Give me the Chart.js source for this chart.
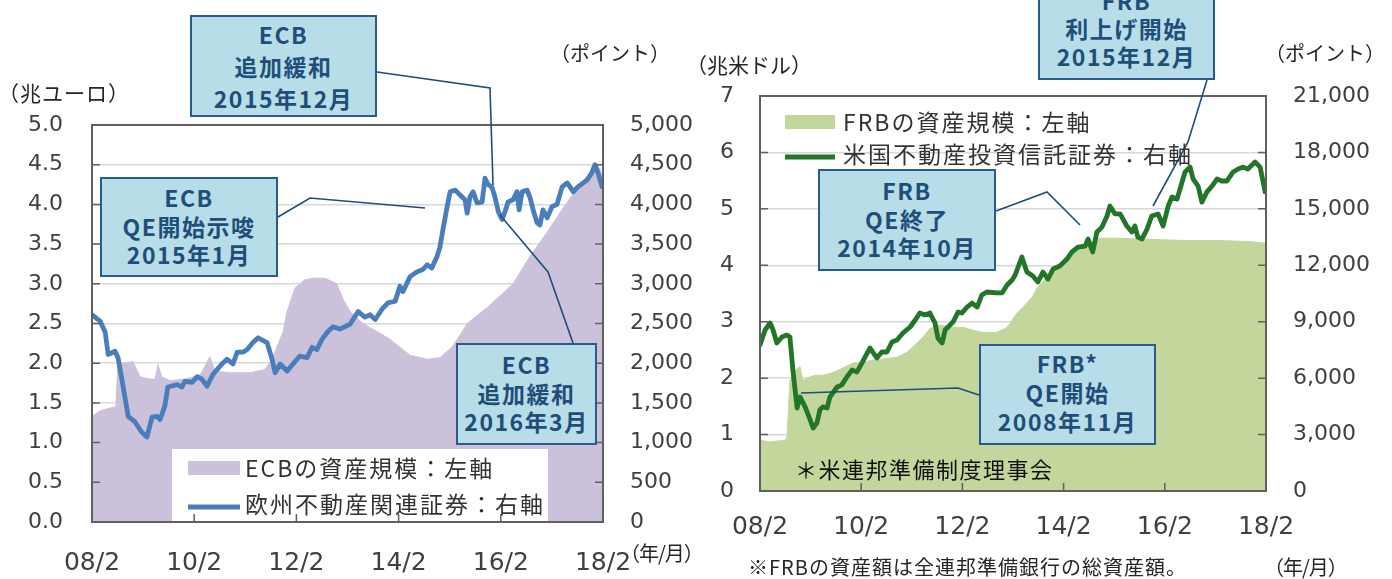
<!DOCTYPE html>
<html lang="ja">
<head>
<meta charset="utf-8">
<title>ECB・FRBの資産規模と不動産関連証券</title>
<script src="https://cdn.jsdelivr.net/npm/chart.js@4.4.1/dist/chart.umd.min.js"></script>
<style>
  html, body { margin: 0; padding: 0; background: #fff; }
  body { width: 1392px; height: 579px; position: relative; overflow: hidden;
         font-family: "Noto Sans CJK JP", "Noto Sans", sans-serif; }
  canvas { position: absolute; top: 0; }
  #leftChart  { left: 0; }
  #rightChart { left: 690px; }
  .txt { position: absolute; white-space: nowrap; line-height: 1.2; color: #262626;
         transform: translateY(-50%); }
  .callout { position: absolute; box-sizing: border-box; background: #b7dde8;
             border: 2px solid #2c5a8a; color: #1f4e79; font-weight: 700;
             font-size: 23px; letter-spacing: 1.5px; text-align: center; line-height: 29px; }
</style>
</head>
<body>
<canvas id="leftChart" width="700" height="579"></canvas>
<canvas id="rightChart" width="702" height="579"></canvas>

<!-- axis units / notes -->
<div class="txt" style="left:-2px;top:93px;font-size:21px;letter-spacing:1px;">（兆ユーロ）</div>
<div class="txt" style="left:550px;top:53px;font-size:20px;">（ポイント）</div>
<div class="txt" style="left:686px;top:65px;font-size:21px;">（兆米ドル）</div>
<div class="txt" style="left:1265px;top:53px;font-size:20px;">（ポイント）</div>
<div class="txt" style="left:620px;top:553px;font-size:20px;letter-spacing:-1px;">（年/月）</div>
<div class="txt" style="left:1264px;top:567px;font-size:20px;letter-spacing:-1px;">（年/月）</div>
<div class="txt" style="left:748px;top:567px;font-size:20px;letter-spacing:1px;">※FRBの資産額は全連邦準備銀行の総資産額。</div>

<!-- legends -->
<div class="txt" style="left:245px;top:468px;font-size:23px;letter-spacing:2px;color:#333;">ECBの資産規模：左軸</div>
<div class="txt" style="left:245px;top:504px;font-size:23px;letter-spacing:2px;color:#333;">欧州不動産関連証券：右軸</div>
<div class="txt" style="left:843px;top:122px;font-size:23px;letter-spacing:2px;color:#333;">FRBの資産規模：左軸</div>
<div class="txt" style="left:843px;top:154px;font-size:23px;letter-spacing:2px;color:#333;">米国不動産投資信託証券：右軸</div>
<div class="txt" style="left:795px;top:468px;font-size:22px;letter-spacing:1.5px;color:#111;">＊米連邦準備制度理事会</div>

<!-- callouts -->
<div class="callout" style="left:190px;top:15px;width:187px;height:102px;padding-top:1px;line-height:32px;">ECB<br>追加緩和<br>2015年12月</div>
<div class="callout" style="left:100px;top:177px;width:178px;height:100px;padding-top:4px;line-height:28.5px;">ECB<br>QE開始示唆<br>2015年1月</div>
<div class="callout" style="left:456px;top:343px;width:141px;height:102px;padding-top:5px;line-height:28.5px;">ECB<br>追加緩和<br>2016年3月</div>
<div class="callout" style="left:1038px;top:-20px;width:177px;height:100px;padding-top:4px;line-height:28px;">FRB<br>利上げ開始<br>2015年12月</div>
<div class="callout" style="left:818px;top:169px;width:178px;height:102px;padding-top:5px;line-height:28.5px;">FRB<br>QE終了<br>2014年10月</div>
<div class="callout" style="left:979px;top:344px;width:177px;height:101px;padding-top:3px;line-height:29px;">FRB*<br>QE開始<br>2008年11月</div>

<script>
// ── Data (x = months since 2008/2) ─────────────────────────
const xTickMonths = [0, 24, 48, 72, 96, 120];
const xTickLabels = ['08/2', '10/2', '12/2', '14/2', '16/2', '18/2'];

// ECB balance sheet (兆ユーロ)
const ecbX = [0, 1.9, 3.8, 5.6, 6.1, 7.7, 9.6, 11.3, 13.6, 14.8, 15.5, 16.4, 18.3, 21.8, 25.4, 27.7, 28.9,
  32.4, 37.1, 40.6, 42.3, 43.4, 44.9, 45.8, 47.7, 50, 51.9, 54.7, 57.5, 59, 60.6, 63.6, 66.9, 70, 74.7,
  78.7, 81.7, 84.5, 86.4, 88.1, 92.8, 98.9, 102.9, 106.9, 110.6, 113.9, 117, 117.7, 119.3, 120];
const ecbAssets = [1.33, 1.40, 1.43, 1.45, 2.0, 2.0, 2.02, 1.83, 1.80, 1.80, 1.98, 1.83, 1.78, 1.80, 1.85, 2.08, 1.90,
  1.88, 1.88, 1.92, 2.05, 2.2, 2.4, 2.65, 2.95, 3.05, 3.07, 3.07, 3.0, 2.8, 2.65, 2.5, 2.4, 2.3, 2.1,
  2.05, 2.07, 2.2, 2.35, 2.5, 2.7, 3.0, 3.35, 3.65, 3.95, 4.2, 4.4, 4.5, 4.45, 4.3];

// European real-estate securities (ポイント)
const eurX = [0, 1.9, 3.1, 3.8, 5.4, 6.1, 7.3, 8.5, 10.1, 11.7, 12.9, 14.1, 15.3, 16, 17.1, 17.8, 20, 21.1,
  21.8, 23.5, 24.7, 25.8, 27, 28.4, 30.5, 31.7, 33.1, 34.1, 35.5, 36.4, 37.8, 39, 41.1, 42.3, 43, 44.2,
  45.8, 47.2, 48.8, 50.5, 51.7, 52.8, 54, 55.4, 56.6, 58.2, 60.6, 62.5, 64.1, 65.3, 66.5, 68.1, 69.5,
  71.2, 72.3, 73, 74.7, 76.3, 77.7, 78.7, 79.8, 81, 81.7, 82.4, 83.4, 84.1, 85.3, 86.4, 87.6, 88.1,
  88.8, 89.5, 90.4, 91.6, 92.3, 93, 93.9, 94.6, 95.4, 96.3, 97, 97.7, 98.9, 99.8, 100.3, 101, 102.2,
  102.9, 103.6, 104.5, 105.2, 105.9, 106.9, 108, 109.2, 110.4, 111.6, 113, 114.1, 116.3, 117.4, 118.1,
  118.8, 119.8];
const eurReit = [2610, 2530, 2390, 2110, 2150, 2070, 1710, 1330, 1260, 1130, 1070, 1320, 1330, 1290, 1460, 1700, 1730, 1700,
  1770, 1760, 1830, 1800, 1710, 1860, 1990, 2050, 1990, 2140, 2140, 2170, 2260, 2320, 2260, 2050, 1880, 1990,
  1900, 1990, 2090, 2070, 2200, 2170, 2300, 2400, 2460, 2430, 2490, 2650, 2580, 2610, 2550, 2680, 2760,
  2780, 2970, 2900, 3090, 3150, 3180, 3240, 3200, 3340, 3460, 3680, 3970, 4160, 4180, 4120, 4060, 3890,
  4100, 4160, 4020, 4030, 4330, 4250, 4220, 4100, 3910, 3810, 3910, 4030, 4060, 4160, 3930, 4160, 4180,
  4080, 3930, 3770, 3740, 3930, 3830, 3970, 4000, 4220, 4270, 4160, 4220, 4310, 4400, 4500,
  4400, 4220];

// FRB balance sheet (兆米ドル)
const frbX = [0, 2.4, 5.9, 6.4, 7.1, 8.3, 9.5, 10.2, 11.1, 13, 14.9, 17.3, 19.7, 22.1, 24.4, 26.8, 29.2, 32.5,
  34.9, 37.2, 38.7, 40.3, 42.7, 45.8, 48.1, 50.5, 52.9, 56.2, 58.6, 60.9, 62.4, 64.7, 65.7, 68.8, 72.8,
  75.9, 79, 80.6, 84.7, 92.5, 100.3, 108.4, 116.2, 120];
const frbAssets = [0.90, 0.87, 0.90, 0.95, 1.96, 2.14, 2.2, 1.96, 2.0, 2.05, 2.05, 2.1, 2.18, 2.27, 2.28, 2.32, 2.34, 2.37,
  2.46, 2.62, 2.73, 2.88, 2.94, 2.90, 2.90, 2.85, 2.81, 2.81, 2.90, 3.15, 3.26, 3.45, 3.6, 3.85, 4.12,
  4.30, 4.42, 4.48, 4.48, 4.46, 4.44, 4.44, 4.42, 4.39];

// US REIT securities (ポイント)
const usX = [0, 1.2, 2.4, 3.1, 4, 5.2, 6.4, 7.1, 7.8, 8.8, 9.5, 10.7, 11.9, 12.6, 13.5, 14.2, 14.9, 15.9, 16.6,
  18.3, 19.4, 20.6, 21.8, 23, 24.2, 24.9, 26.1, 27.7, 28.9, 30.1, 31.3, 32.5, 33.9, 35.6, 36.8, 37.9,
  39.1, 40.3, 41.5, 42.2, 43.2, 43.9, 44.6, 45.8, 47, 47.9, 49.1, 50.3, 51.5, 52.6, 53.8, 56.2, 57.4,
  58.6, 59.8, 60.5, 62.1, 63.3, 64.7, 65.9, 67.1, 68.3, 69.5, 71.1, 72.8, 74, 75.4, 77.1, 77.8, 78.9,
  79.9, 81.1, 82.3, 83, 84.2, 85.4, 87, 88.2, 88.9, 89.6, 90.6, 91.8, 92.9, 94.4, 95.6, 96.8, 97.7,
  98.9, 99.6, 100.8, 102, 102.7, 103.9, 104.8, 106, 107.2, 108.4, 109.5, 110.7, 112.2, 113.4, 114.6,
  115.7, 117.4, 118.6, 119.8];
const usReit = [7760, 8560, 8930, 8560, 7870, 8190, 8290, 8190, 6430, 4410, 5000, 4470, 3780, 3350, 3620, 4310, 4470, 4410, 5000,
  5530, 5640, 6060, 6430, 6330, 6810, 7120, 7600, 7070, 7390, 7390, 7920, 8030, 8400, 8720, 9090, 9460,
  9360, 9460, 8930, 8130, 7870, 8560, 8720, 8990, 9520, 9460, 9780, 9990, 9780, 10420, 10580, 10530, 10530,
  10950, 11220, 11480, 12440, 11640, 11430, 11110, 11640, 11270, 11800, 11960, 12330, 12710, 12970, 13020, 13400, 12710,
  13770, 14030, 14620, 15150, 14730, 14730, 14090, 13770, 14090, 13500, 13400, 13930, 14620, 14730, 14090, 15150, 15630,
  15520, 16050, 16960, 17220, 16590, 16210, 15360, 15900, 16210, 16590, 16480, 16480, 16960, 17120, 17220,
  17120, 17490, 17220, 15900];

// ── Styles ────────────────────────────────────────────────
const PURPLE = '#ccc1da';
const BLUE   = '#4a7ebb';
const GREEN_AREA = '#c3d69b';
const GREEN_LINE = '#23752a';
const GRID   = '#d9d9d9';
const FRAME  = '#606060';
const TICK_TEXT = '#404040';
const NUM_FONT = '"DejaVu Sans", Verdana, sans-serif';

const toXY = (xs, ys) => xs.map((x, i) => ({ x, y: ys[i] }));
const fmtThousands = v => v.toLocaleString('en-US');

// ── Frame, tick marks, legend keys and leader lines ───────
const framePlugin = {
  id: 'frame',
  afterDatasetsDraw(chart, args, opts) {
    const { ctx, chartArea: a, scales } = chart;
    ctx.save();

    if (opts.legendBox) {
      const b = opts.legendBox;
      ctx.fillStyle = '#fff';
      ctx.fillRect(b[0], b[1], b[2], b[3]);
    }
    (opts.keys || []).forEach(k => {
      if (k.type === 'box') {
        ctx.fillStyle = k.color;
        ctx.fillRect(k.x, k.y - 7, k.w, 14);
      } else {
        ctx.strokeStyle = k.color;
        ctx.lineWidth = 5;
        ctx.beginPath();
        ctx.moveTo(k.x, k.y);
        ctx.lineTo(k.x + k.w, k.y);
        ctx.stroke();
      }
    });

    ctx.strokeStyle = FRAME;
    ctx.lineWidth = 1.5;
    ctx.beginPath();
    scales.y.ticks.forEach(t => {
      const y = scales.y.getPixelForValue(t.value);
      ctx.moveTo(a.left, y); ctx.lineTo(a.left + 8, y);
    });
    scales.y1.ticks.forEach(t => {
      const y = scales.y1.getPixelForValue(t.value);
      ctx.moveTo(a.right, y); ctx.lineTo(a.right - 8, y);
    });
    scales.x.ticks.forEach(t => {
      const x = scales.x.getPixelForValue(t.value);
      ctx.moveTo(x, a.bottom); ctx.lineTo(x, a.bottom - 8);
    });
    ctx.stroke();
    ctx.lineWidth = 2;
    ctx.strokeRect(a.left, a.top, a.right - a.left, a.bottom - a.top);
    ctx.restore();
  },
  afterDraw(chart, args, opts) {
    const { ctx } = chart;
    ctx.save();
    ctx.strokeStyle = '#1f4e79';
    ctx.lineWidth = 1.6;
    (opts.leaders || []).forEach(pts => {
      ctx.beginPath();
      pts.forEach(([x, y], i) => (i ? ctx.lineTo(x, y) : ctx.moveTo(x, y)));
      ctx.stroke();
    });
    ctx.restore();
  },
};

function xScale(height, pad) {
  return {
    type: 'linear', min: 0, max: 120,
    afterBuildTicks: s => { s.ticks = xTickMonths.map(v => ({ value: v })); },
    afterFit: s => { s.height = height; },
    grid: { display: false, drawTicks: false },
    border: { display: false },
    ticks: {
      autoSkip: false, maxRotation: 0, padding: pad, color: TICK_TEXT,
      font: { family: NUM_FONT, size: 25 },
      callback: (v, i) => xTickLabels[i],
    },
  };
}

function buildChart(id, cfg) {
  return new Chart(document.getElementById(id), {
    type: 'line',
    data: {
      datasets: [
        {
          label: cfg.lineLabel, data: cfg.line, yAxisID: 'y1', order: 1,
          borderColor: cfg.lineColor, borderWidth: 4.8, pointRadius: 0,
          borderJoinStyle: 'round', borderCapStyle: 'round', fill: false,
        },
        {
          label: cfg.areaLabel, data: cfg.area, yAxisID: 'y', order: 2,
          borderColor: cfg.areaColor, borderWidth: 1, backgroundColor: cfg.areaColor,
          pointRadius: 0, fill: 'origin',
        },
      ],
    },
    options: {
      responsive: false,
      animation: false,
      devicePixelRatio: 1,
      layout: { padding: { top: cfg.top, left: 0, right: 0, bottom: 0 } },
      plugins: {
        legend: { display: false },
        tooltip: { enabled: false },
        frame: cfg.frame,
      },
      scales: {
        x: xScale(cfg.xHeight, cfg.xPad),
        y: {
          position: 'left', min: 0, max: cfg.yMax,
          afterFit: s => { s.width = cfg.yWidth; },
          grid: { color: GRID, lineWidth: 1.5, drawTicks: false },
          border: { display: false },
          ticks: {
            stepSize: cfg.yStep, padding: cfg.yPad, color: TICK_TEXT,
            font: { family: NUM_FONT, size: 22 },
            callback: cfg.yFmt,
          },
        },
        y1: {
          position: 'right', min: 0, max: cfg.y1Max,
          afterFit: s => { s.width = cfg.y1Width; },
          grid: { display: false, drawTicks: false },
          border: { display: false },
          ticks: {
            stepSize: cfg.y1Step, padding: 27, color: TICK_TEXT,
            font: { family: NUM_FONT, size: 22 },
            callback: v => fmtThousands(v),
          },
        },
      },
    },
    plugins: [framePlugin],
  });
}

// Left: ECB / Europe
buildChart('leftChart', {
  top: 125, xHeight: 57, xPad: 26,
  yMax: 5, yStep: 0.5, yWidth: 92, yPad: 29, yFmt: v => v.toFixed(1),
  y1Max: 5000, y1Step: 500, y1Width: 97,
  line: toXY(eurX, eurReit), lineColor: BLUE, lineLabel: '欧州不動産関連証券：右軸',
  area: toXY(ecbX, ecbAssets), areaColor: PURPLE, areaLabel: 'ECBの資産規模：左軸',
  frame: {
    legendBox: [172, 449, 376, 73],
    keys: [
      { type: 'box', x: 188, y: 468, w: 52, color: PURPLE },
      { type: 'line', x: 188, y: 507, w: 52, color: BLUE },
    ],
    leaders: [
      [[377, 72], [490, 88], [493, 185]],
      [[278, 217], [310, 198], [425, 208]],
      [[573, 343], [548, 272], [500, 215]],
    ],
  },
});

// Right: FRB / US (canvas starts at x = 690)
const OX = 690;
buildChart('rightChart', {
  top: 96, xHeight: 88, xPad: 21,
  yMax: 7, yStep: 1, yWidth: 70, yPad: 26, yFmt: v => String(v),
  y1Max: 21000, y1Step: 3000, y1Width: 126,
  line: toXY(usX, usReit), lineColor: GREEN_LINE, lineLabel: '米国不動産投資信託証券：右軸',
  area: toXY(frbX, frbAssets), areaColor: GREEN_AREA, areaLabel: 'FRBの資産規模：左軸',
  frame: {
    keys: [
      { type: 'box', x: 785 - OX, y: 122, w: 50, color: GREEN_AREA },
      { type: 'line', x: 785 - OX, y: 157, w: 50, color: GREEN_LINE },
    ],
    leaders: [
      [[1207 - OX, 80], [1188 - OX, 142], [1153 - OX, 206]],
      [[996 - OX, 211], [1047 - OX, 192], [1080 - OX, 225]],
      [[979 - OX, 395], [958 - OX, 388], [801 - OX, 393]],
    ],
  },
});
</script>
</body>
</html>
